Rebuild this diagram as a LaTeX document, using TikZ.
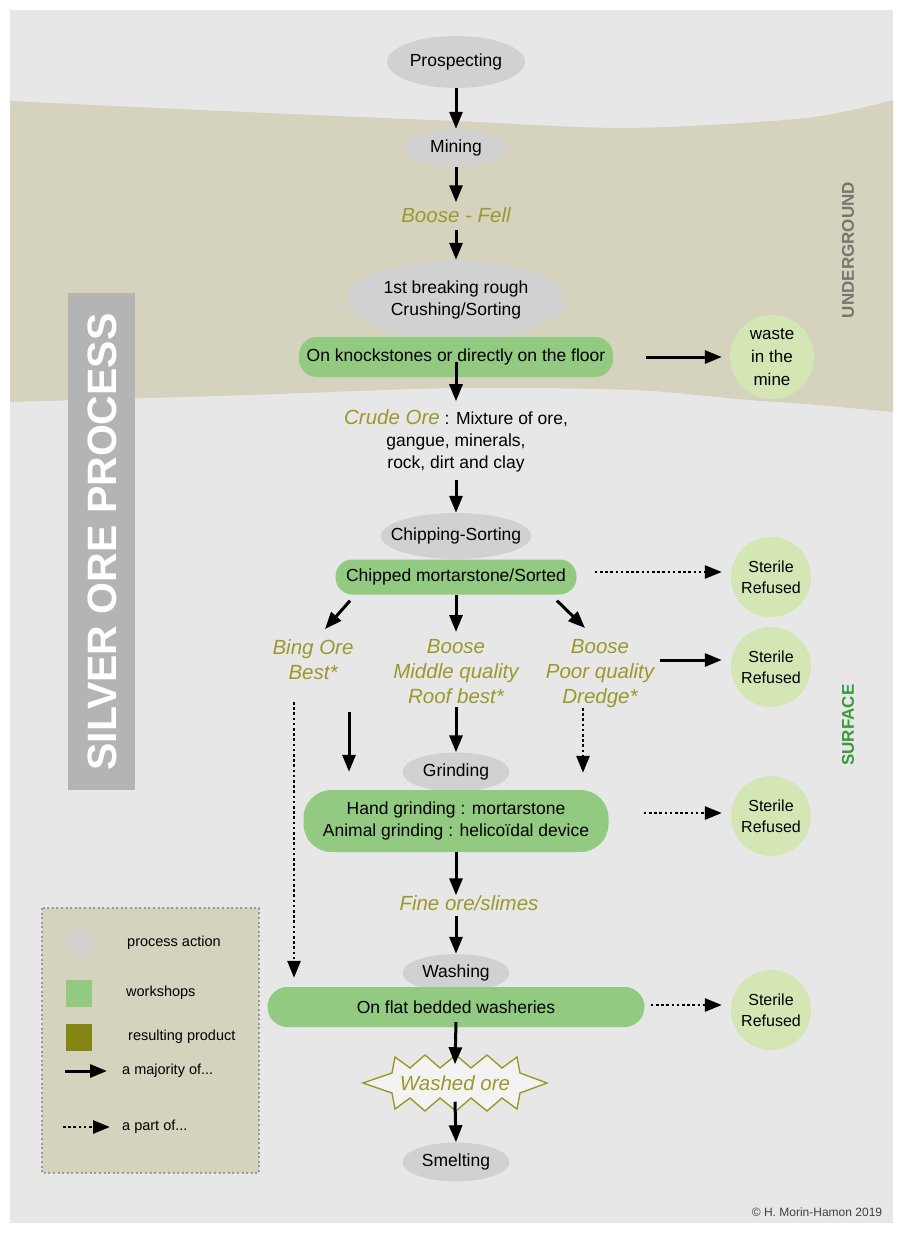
\documentclass[tikz,border=0pt]{standalone}
\usepackage{fontspec}
\setmainfont{Liberation Sans}
\usetikzlibrary{shapes.geometric,arrows.meta,calc}
\definecolor{bggray}{HTML}{E7E7E7}
\definecolor{tanband}{HTML}{D5D3BE}
\definecolor{procgray}{HTML}{D1D1D1}
\definecolor{wgreen}{HTML}{92CA82}
\definecolor{pgreen}{HTML}{D3E6B3}
\definecolor{olivetxt}{HTML}{9C982C}
\definecolor{olivesq}{HTML}{858514}
\definecolor{barg}{HTML}{B4B4B4}
\definecolor{ugtxt}{HTML}{76766A}
\definecolor{sftxt}{HTML}{3A9A3A}
\newcommand\fsA{\fontsize{17.5}{22}\selectfont}
\newcommand\fsO{\fontsize{20.5}{25}\selectfont\itshape}
\newcommand\fsL{\fontsize{14.5}{17}\selectfont}
\tikzset{
 proc/.style={ellipse, fill=procgray, inner sep=0pt},
 work/.style={rectangle, fill=wgreen, inner sep=2pt, align=center},
 res/.style={text=olivetxt, font=\fsO, align=center, inner sep=3pt},
 refuse/.style={circle, fill=pgreen, inner sep=0pt, minimum size=80pt, align=center, font=\fontsize{16}{21}\selectfont},
 arr/.style={-{Triangle[length=17pt,width=13pt]}, line width=3pt},
 darr/.style={-{Triangle[length=17pt,width=13pt]}, line width=2.8pt, dash pattern=on 2.6pt off 2.6pt},
 side/.style={rotate=90, font=\bfseries\fontsize{17}{17}\selectfont},
 legtext/.style={anchor=west, font=\fsL, inner sep=0pt},
}
\begin{document}
\begin{tikzpicture}[x=1pt,y=-1pt,font=\fsA]
\useasboundingbox (0,0) rectangle (903,1233);
\fill[white] (0,0) rectangle (903,1233);
\fill[bggray] (10,10) rectangle (893,1223);
% underground band
\fill[tanband] plot[smooth] coordinates {(10,101) (200,110) (455,121) (630,128) (806,118) (893,100)}
  -- plot[smooth] coordinates {(893,412) (806,404) (748,400) (633,390) (455,388) (250,395) (10,402)} -- cycle;
% title bar
\fill[barg] (68,293) rectangle (135,790);
\node[rotate=90, text=white, font=\bfseries\fontsize{41}{41}\selectfont] (title) at (102,542) {SILVER ORE PROCESS};
\node[side, text=ugtxt] (ug) at (848,250) {UNDERGROUND};
\node[side, text=sftxt] (sf) at (848,725) {SURFACE};

% nodes
\node[proc, minimum width=138pt, minimum height=52pt, label=center:Prospecting] (prosp) at (456,62) {};
\node[proc, minimum width=104pt, minimum height=38pt, label=center:Mining] (mining) at (456,148) {};
\node[res] (fell) at (456,215) {Boose - Fell};
\node[proc, minimum width=218pt, minimum height=80pt, label={[align=center]center:1st breaking rough\\Crushing/Sorting}] (break) at (456,300) {};
\node[work, rounded corners=18pt, minimum width=314pt, minimum height=40pt] (knock) at (456,357) {On knockstones or directly on the floor};
\node[refuse, minimum size=84pt, font=\fontsize{17}{23}\selectfont] (waste) at (772,357) {waste\\in the\\mine};

\node[align=center] (crude) at (456,441) {{\color{olivetxt}\fsO Crude Ore}\ : Mixture of ore,\\gangue, minerals,\\rock, dirt and clay};
\node[proc, minimum width=150pt, minimum height=46pt, label=center:Chipping-Sorting] (chip) at (456,536) {};
\node[work, rounded corners=17pt, minimum width=241pt, minimum height=35pt] (chipped) at (456,577) {Chipped mortarstone/Sorted};
\node[refuse] (ster1) at (771,577) {Sterile\\Refused};

\node[res, anchor=north] (bing) at (313,636) {Bing Ore\\Best*};
\node[res, anchor=north] (mid) at (456,636) {Boose\\Middle quality\\Roof best*};
\node[res, anchor=north] (poor) at (600,636) {Boose\\Poor quality\\Dredge*};
\node[refuse] (ster2) at (771,667) {Sterile\\Refused};

\node[proc, minimum width=107pt, minimum height=39pt, label=center:Grinding] (grinding) at (456,772) {};
\node[work, rounded corners=28pt, minimum width=305pt, minimum height=62pt] (grindbox) at (456,821) {Hand grinding : mortarstone\\Animal grinding : helico\"idal device};
\node[refuse] (ster3) at (771,816) {Sterile\\Refused};

\node[res] (fine) at (469,903) {Fine ore/slimes};
\node[proc, minimum width=107pt, minimum height=38pt, label=center:Washing] (washing) at (456,973) {};
\node[work, rounded corners=20pt, minimum width=377pt, minimum height=40pt] (washbar) at (456,1007) {On flat bedded washeries};
\node[refuse] (ster4) at (771,1010) {Sterile\\Refused};

\filldraw[draw=olivetxt, fill=bggray!50!white, line width=1.4pt, line join=miter]
 (363,1083) -- (392,1073) -- (395,1057) -- (410,1068) -- (425,1055) -- (440,1068) -- (456,1055)
 -- (471,1068) -- (487,1055) -- (502,1068) -- (517,1057) -- (520,1073) -- (547,1083)
 -- (520,1093) -- (517,1109) -- (502,1098) -- (487,1111) -- (471,1098) -- (456,1111)
 -- (440,1098) -- (425,1111) -- (410,1098) -- (395,1109) -- (392,1093) -- cycle;
\node[res] (washed) at (455,1083) {Washed ore};
\node[proc, minimum width=107pt, minimum height=39pt, label=center:Smelting] (smelt) at (456,1162) {};

% connectors
\draw[arr] (prosp) -- (mining);
\draw[arr] (mining.south) -- ([yshift=2pt]fell.north);
\draw[arr] ([yshift=-4pt]fell.south) -- (break.north);
\draw[arr] ([xshift=33pt]knock.east) -- ([xshift=-8pt]waste.west);
\draw[arr] ([yshift=-5pt]knock.center) -- ([yshift=5pt]crude.north);
\draw[arr] ([yshift=-4pt]crude.south) -- (chip.north);
\draw[darr] ([xshift=18pt,yshift=5pt]chipped.east) -- ([xshift=-9pt,yshift=5pt]ster1.west);
\draw[arr] ($(chipped.south)+(-106,6)$) -- ($(bing.north)+(12,-7)$);
\draw[arr] (chipped.south) -- ([yshift=4pt]mid.north);
\draw[arr] ($(chipped.south)+(101,6)$) -- ($(poor.north)+(-15,-8)$);
\coordinate (poorE) at ($(poor.east |- ster2.west)+(3,-7)$);
\draw[arr] (poorE) -- ([xshift=-9pt,yshift=7pt]ster2.west);
\coordinate (bingA) at (294,702);
\draw[darr] (bingA) -- ($(washbar.north -| bingA)+(0,-9)$);
\coordinate (bingB) at (349,712);
\draw[arr] (bingB) -- ($(grindbox.north -| bingB)+(0,-18)$);
\draw[arr] (mid.south) -- (grinding.north);
\coordinate (dredgeA) at (583,708);
\draw[darr] (dredgeA) -- ($(grindbox.north -| dredgeA)+(0,-17)$);
\draw[darr] ([xshift=35pt,yshift=8pt]grindbox.east) -- ([xshift=-9pt,yshift=3pt]ster3.west);
\draw[arr] (grindbox.south) -- ($(grindbox.south |- fine.north)+(0,3)$);
\draw[arr] ($(fine.south -| washing.north)+(0,2)$) -- (washing.north);
\draw[darr] ([xshift=6pt,yshift=2pt]washbar.east) -- ([xshift=-9pt,yshift=5pt]ster4.west);
\draw[arr] ([yshift=-15pt]washbar.center) -- ([yshift=8pt]washed.north);
\draw[arr] ([yshift=-8pt]washed.south) -- (smelt.north);

% legend
\filldraw[fill=tanband, draw=gray!80, line width=2pt, dash pattern=on 2pt off 2.6pt] (42,908) rectangle (259,1173);
\node[circle, fill=procgray, minimum size=26pt, inner sep=0pt] (lg1) at (80,943) {};
\node[legtext] (lt1) at (127,943) {process action};
\node[fill=wgreen, minimum width=26pt, minimum height=27pt, inner sep=0pt] (lg2) at (79,993) {};
\node[legtext] (lt2) at (126,993) {workshops};
\node[fill=olivesq, minimum width=26pt, minimum height=27pt, inner sep=0pt] (lg3) at (79,1037) {};
\node[legtext] (lt3) at (128,1037) {resulting product};
\coordinate (la1) at (65,1071);
\coordinate (la2) at (107,1071);
\draw[arr] (la1) -- (la2);
\node[legtext] (lt4) at (122,1071) {a majority of...};
\coordinate (lb1) at (63,1127);
\coordinate (lb2) at (110,1127);
\draw[darr] (lb1) -- (lb2);
\node[legtext] (lt5) at (122,1127) {a part of...};

\node[text=black!75, font=\fontsize{12}{14}\selectfont] (copy) at (817,1212) {\textcopyright\ H. Morin-Hamon 2019};
\end{tikzpicture}
\end{document}
